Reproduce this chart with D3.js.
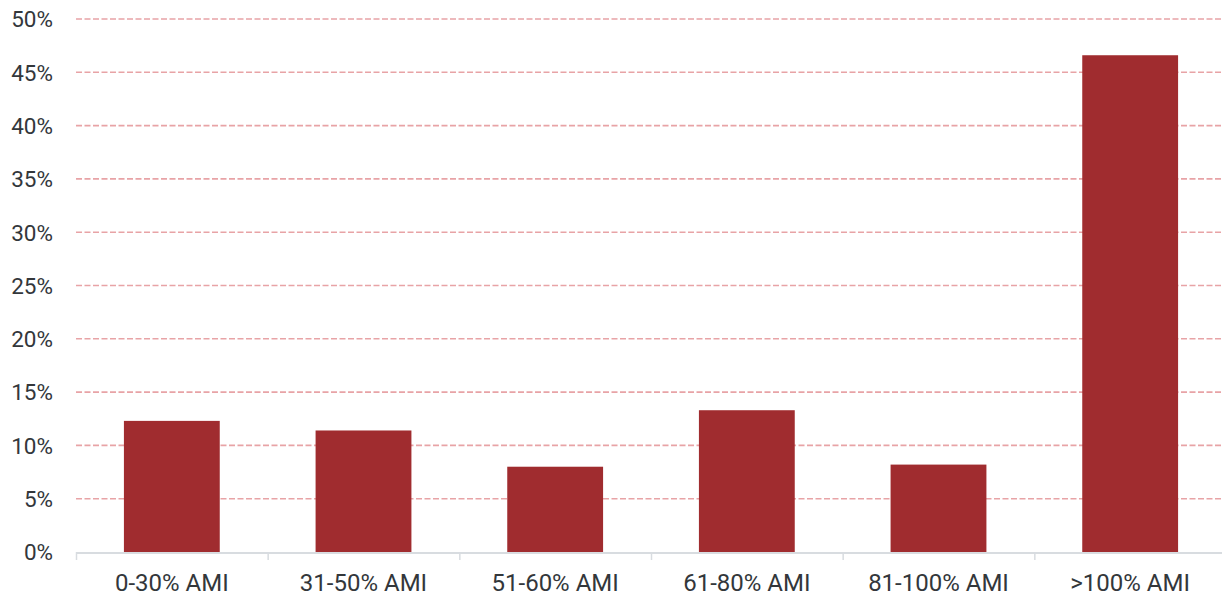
<!DOCTYPE html>
<html>
<head>
<meta charset="utf-8">
<script src="https://cdn.jsdelivr.net/npm/d3@7"></script>
<style>
  html, body { margin: 0; padding: 0; background: #fff; }
  svg { display: block; font-family: Roboto, "Noto Sans", sans-serif; }
</style>
</head>
<body>
<svg id="chart" width="1222" height="596"></svg>
<script>
// Share of households by income band (% of area median income)
const categories = ["0-30% AMI", "31-50% AMI", "51-60% AMI", "61-80% AMI", "81-100% AMI", ">100% AMI"];
const shares = [12.3, 11.4, 8.0, 13.3, 8.2, 46.6];
const yTicks = [0, 5, 10, 15, 20, 25, 30, 35, 40, 45, 50];

const svg = d3.select("#chart");
const plotLeft = 76, plotRight = 1226, plotTop = 19, plotBottom = 552;

const x = d3.scaleBand().domain(categories).range([plotLeft, plotRight]).paddingInner(0.5).paddingOuter(0.25);
const y = d3.scaleLinear().domain([0, 50]).range([plotBottom, plotTop]);

// Dashed horizontal gridlines
svg.append("g")
  .selectAll("line")
  .data(yTicks.filter(d => d > 0))
  .join("line")
  .attr("x1", plotLeft).attr("x2", 1222)
  .attr("y1", d => y(d)).attr("y2", d => y(d))
  .attr("stroke", "#e8a3a6")
  .attr("stroke-width", 1.6)
  .attr("stroke-dasharray", "6,2.5");

// Y axis labels
svg.append("g")
  .selectAll("text")
  .data(yTicks)
  .join("text")
  .attr("x", 53)
  .attr("y", d => y(d))
  .attr("dy", "0.37em")
  .attr("text-anchor", "end")
  .attr("font-size", 22.5)
  .attr("fill", "#33373b")
  .text(d => d + "%");

// Bars
svg.append("g")
  .selectAll("rect")
  .data(categories)
  .join("rect")
  .attr("x", d => x(d))
  .attr("width", x.bandwidth())
  .attr("y", (d, i) => y(shares[i]))
  .attr("height", (d, i) => y(0) - y(shares[i]))
  .attr("fill", "#a02c2f");

// X axis baseline and category boundary ticks
const step = x.step();
const axis = svg.append("g");
axis.append("line")
  .attr("x1", plotLeft).attr("x2", 1222)
  .attr("y1", plotBottom + 1).attr("y2", plotBottom + 1)
  .attr("stroke", "#d8dce0").attr("stroke-width", 2);
axis.selectAll("line.tick")
  .data(d3.range(categories.length))
  .join("line")
  .attr("class", "tick")
  .attr("x1", i => plotLeft + i * step + 0.5).attr("x2", i => plotLeft + i * step + 0.5)
  .attr("y1", plotBottom).attr("y2", plotBottom + 8)
  .attr("stroke", "#d8dce0").attr("stroke-width", 1.5);

// X axis labels
svg.append("g")
  .selectAll("text")
  .data(categories)
  .join("text")
  .attr("x", d => x(d) + x.bandwidth() / 2)
  .attr("y", 582)
  .attr("dy", "0.36em")
  .attr("text-anchor", "middle")
  .attr("font-size", 24)
  .attr("fill", "#33373b")
  .text(d => d);
</script>
</body>
</html>
